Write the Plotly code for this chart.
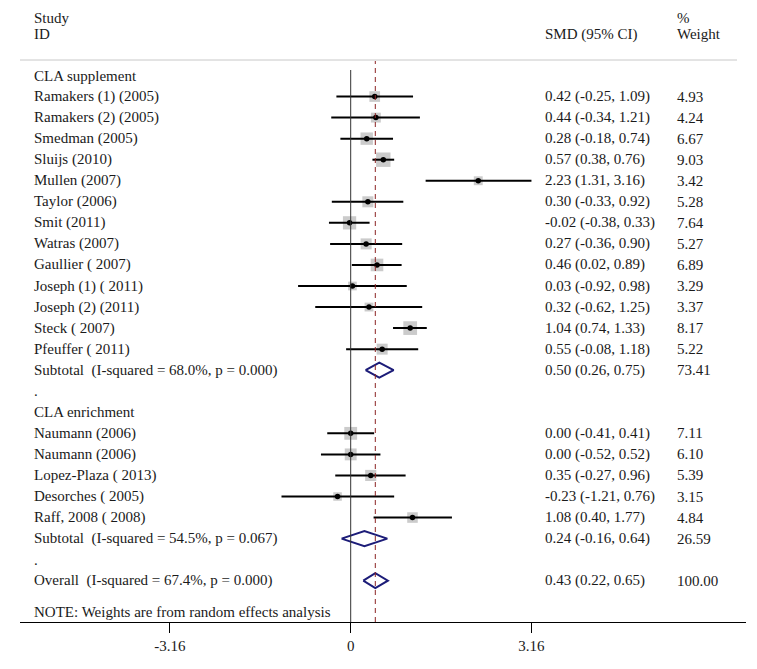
import plotly.graph_objects as go
import math

# ---------------- data ----------------
supp_studies = ["Ramakers (1) (2005)", "Ramakers (2) (2005)", "Smedman (2005)", "Sluijs (2010)",
                "Mullen (2007)", "Taylor (2006)", "Smit (2011)", "Watras (2007)", "Gaullier ( 2007)",
                "Joseph (1) ( 2011)", "Joseph (2) (2011)", "Steck ( 2007)", "Pfeuffer ( 2011)"]
supp_smd = [0.42, 0.44, 0.28, 0.57, 2.23, 0.30, -0.02, 0.27, 0.46, 0.03, 0.32, 1.04, 0.55]
supp_lo = [-0.25, -0.34, -0.18, 0.38, 1.31, -0.33, -0.38, -0.36, 0.02, -0.92, -0.62, 0.74, -0.08]
supp_hi = [1.09, 1.21, 0.74, 0.76, 3.16, 0.92, 0.33, 0.90, 0.89, 0.98, 1.25, 1.33, 1.18]
supp_w = [4.93, 4.24, 6.67, 9.03, 3.42, 5.28, 7.64, 5.27, 6.89, 3.29, 3.37, 8.17, 5.22]

enr_studies = ["Naumann (2006)", "Naumann (2006)", "Lopez-Plaza ( 2013)", "Desorches ( 2005)",
               "Raff, 2008 ( 2008)"]
enr_smd = [0.00, 0.00, 0.35, -0.23, 1.08]
enr_lo = [-0.41, -0.52, -0.27, -1.21, 0.40]
enr_hi = [0.41, 0.52, 0.96, 0.76, 1.77]
enr_w = [7.11, 6.10, 5.39, 3.15, 4.84]

group_names = ["CLA supplement", "CLA enrichment"]
subtotal_labels = ["Subtotal\u00a0 (I-squared = 68.0%, p = 0.000)",
                   "Subtotal\u00a0 (I-squared = 54.5%, p = 0.067)"]
subtotal_smd = [0.50, 0.24]
subtotal_lo = [0.26, -0.16]
subtotal_hi = [0.75, 0.64]
subtotal_w = [73.41, 26.59]

overall_label = "Overall\u00a0 (I-squared = 67.4%, p = 0.000)"
overall_smd = 0.43
overall_lo = 0.22
overall_hi = 0.65
overall_w = 100.00

tick_vals = [-3.16, 0, 3.16]
tick_text = ["-3.16", "0", "3.16"]
note_text = "NOTE: Weights are from random effects analysis"

# ---------------- layout helpers (page pixel coordinates) ----------------
OFF = 8                      # default body margin of the html page
W, H = 757 - 2 * OFF, 669 - 2 * OFF
PL, PR, PT, PB = 20, 746, OFF, 622   # plot area in page pixels
ML, MR, MT, MB = PL - OFF, (W + OFF) - PR, PT - OFF, (H + OFF) - PB
PW, PH = PR - PL, PB - PT
PX_PER_UNIT = 57.2
X0_PX = 350.7
ROW0_PX = 75.5
ROW_H = 21.05

xr = [(PL - X0_PX) / PX_PER_UNIT, (PR - X0_PX) / PX_PER_UNIT]
yr = [(PB - ROW0_PX) / ROW_H, (PT - ROW0_PX) / ROW_H]

FONT = "Liberation Serif, Times New Roman, serif"
FS = 15
TXT = "#1a1a1a"
NAVY = "#1c1c78"

def px_x(px):
    return (px - PL) / PW

def px_y(py):
    return 1 - (py - PT) / PH

COL_LABEL = px_x(32)
COL_CI = px_x(543)
COL_W = px_x(675)

# build rows
rows = []
k = 0
groups = [(supp_studies, supp_smd, supp_lo, supp_hi, supp_w),
          (enr_studies, enr_smd, enr_lo, enr_hi, enr_w)]
for gi, (names, est, lo, hi, w) in enumerate(groups):
    rows.append(("header", group_names[gi], None, None, None, None, k)); k += 1
    for i in range(len(names)):
        rows.append(("study", names[i], est[i], lo[i], hi[i], w[i], k)); k += 1
    rows.append(("diamond", subtotal_labels[gi], subtotal_smd[gi], subtotal_lo[gi],
                 subtotal_hi[gi], subtotal_w[gi], k)); k += 1
    rows.append(("dot", ".", None, None, None, None, k)); k += 1
rows.append(("diamond", overall_label, overall_smd, overall_lo, overall_hi, overall_w, k))

fig = go.Figure()

st = [r for r in rows if r[0] == "study"]
fig.add_trace(go.Scatter(
    x=[r[2] for r in st], y=[r[6] for r in st], mode="markers",
    marker=dict(symbol="square", size=[4.8 * math.sqrt(r[5]) for r in st],
                color="#b5b5b5", line=dict(width=0)),
    hoverinfo="skip", showlegend=False))

cx, cy = [], []
for r in st:
    cx += [r[3], r[4], None]
    cy += [r[6], r[6], None]
fig.add_trace(go.Scatter(x=cx, y=cy, mode="lines", line=dict(color="black", width=2),
                         hoverinfo="skip", showlegend=False))

fig.add_trace(go.Scatter(
    x=[r[2] for r in st], y=[r[6] for r in st], mode="markers",
    marker=dict(symbol="circle", size=5.5, color="black"),
    hoverinfo="skip", showlegend=False))

half = 7.5 / ROW_H
dx, dy = [], []
for r in rows:
    if r[0] == "diamond":
        dx += [r[3], r[2], r[4], r[2], r[3], None]
        dy += [r[6], r[6] - half, r[6], r[6] + half, r[6], None]
fig.add_trace(go.Scatter(x=dx, y=dy, mode="lines", line=dict(color=NAVY, width=2),
                         hoverinfo="skip", showlegend=False))

ann = []
def text(x, y, s, yref="y", yanchor="middle"):
    ann.append(dict(x=x, y=y, xref="paper", yref=yref, text=s, showarrow=False,
                    xanchor="left", yanchor=yanchor,
                    font=dict(family=FONT, size=FS, color=TXT)))

for r in rows:
    kind, label, est, lo, hi, w, kk = r
    text(COL_LABEL, kk, label)
    if kind in ("study", "diamond"):
        text(COL_CI, kk, f"{est:.2f} ({lo:.2f}, {hi:.2f})")
        text(COL_W, kk, f"{w:.2f}")

text(COL_LABEL, 1.0, "Study", "paper", "top")
text(COL_LABEL, px_y(34), "ID", "paper")
text(COL_CI, px_y(34), "SMD (95% CI)", "paper")
text(COL_W, 1.0, "%", "paper", "top")
text(COL_W, px_y(34), "Weight", "paper")
text(COL_LABEL, px_y(612), note_text, "paper")

shapes = [
    dict(type="line", xref="paper", yref="paper", x0=0, x1=px_x(737), y0=px_y(60), y1=px_y(60),
         line=dict(color="#c8c8c8", width=1)),
    dict(type="line", xref="x", yref="paper", x0=0, x1=0, y0=0, y1=px_y(70),
         line=dict(color="#333333", width=1)),
    dict(type="line", xref="x", yref="paper", x0=overall_smd, x1=overall_smd, y0=0, y1=px_y(61),
         line=dict(color="#8b2323", width=1, dash="5px,4px")),
]

fig.update_layout(
    width=W, height=H, margin=dict(l=ML, r=MR, t=MT, b=MB),
    paper_bgcolor="white", plot_bgcolor="white",
    annotations=ann, shapes=shapes, showlegend=False,
    xaxis=dict(range=xr, tickvals=tick_vals, ticktext=tick_text, showgrid=False,
               zeroline=False, showline=True, linecolor="black", linewidth=1,
               ticks="outside", ticklen=10, tickcolor="black", tickwidth=1,
               tickfont=dict(family=FONT, size=FS, color=TXT), fixedrange=True),
    yaxis=dict(range=yr, visible=False, fixedrange=True),
)

fig.write_html("out.html")
